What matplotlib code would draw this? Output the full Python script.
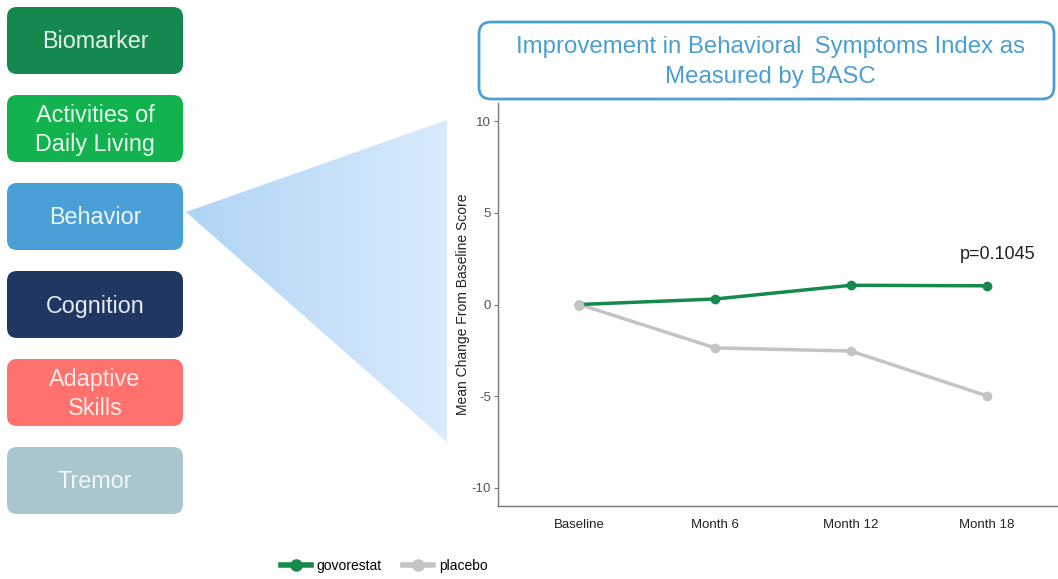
import numpy as np
import matplotlib.pyplot as plt
from matplotlib.patches import FancyBboxPatch, Polygon
from matplotlib.lines import Line2D
from matplotlib.colors import LinearSegmentedColormap

plt.rcParams['font.family'] = ['Liberation Sans', 'DejaVu Sans']

W, H = 1058, 579

# chart data
visits = ['Baseline', 'Month 6', 'Month 12', 'Month 18']
govorestat = [0.0, 0.3, 1.05, 1.02]
placebo = [0.0, -2.37, -2.54, -4.98]
yticks = [-10, -5, 0, 5, 10]

# left side domain boxes
domains = ['Biomarker', 'Activities of\nDaily Living', 'Behavior', 'Cognition',
           'Adaptive\nSkills', 'Tremor']
domain_colors = ['#14884f', '#12b24f', '#4a9fd6', '#1f3761', '#fd726d', '#aac6cd']
domain_text = ['#e6f4ea', '#eaf8ee', '#eef6fc', '#e8ecf4', '#fdeceb', '#f2f6f7']
box_tops = [7, 95, 183, 271, 359, 447]

fig = plt.figure(figsize=(W / 100, H / 100), dpi=100)

# overlay in pixel coordinates
ov = fig.add_axes([0, 0, 1, 1])
ov.axis('off')

for name, col, tcol, top in zip(domains, domain_colors, domain_text, box_tops):
    box = FancyBboxPatch((7, top), 176, 67, boxstyle='round,pad=0,rounding_size=10',
                         fc=col, ec='none')
    ov.add_patch(box)
    ov.text(95, top + 35, name, color=tcol, fontsize=16.8, ha='center', va='center',
            linespacing=1.3)

# gradient triangle pointing at "Behavior"
tri = Polygon([[186, 212], [447, 120], [447, 442]], closed=True, fc='none', ec='none')
ov.add_patch(tri)
grad = np.linspace(0, 1, 256).reshape(1, -1)
cmap = LinearSegmentedColormap.from_list('tri', ['#b0d4f6', '#d9ebfc'])
im = ov.imshow(grad, cmap=cmap, extent=[186, 447, 442, 120], aspect='auto', zorder=1)
im.set_clip_path(tri)
ov.set_xlim(0, W)
ov.set_ylim(H, 0)

# title box
tb = FancyBboxPatch((479, 22), 575, 77, boxstyle='round,pad=0,rounding_size=12',
                    fc='white', ec='#4d9fcf', lw=2)
ov.add_patch(tb)
ov.text(770, 62, 'Improvement in Behavioral  Symptoms Index as\nMeasured by BASC',
        color='#4b9fd0', fontsize=17.3, ha='center', va='center', linespacing=1.5)

# chart axes
x0, x1 = 498, 1068
y0, y1 = 103, 506
ax = fig.add_axes([x0 / W, (H - y1) / H, (x1 - x0) / W, (y1 - y0) / H])
ax.patch.set_alpha(0)
xs = np.arange(1, len(visits) + 1)
ax.plot(xs, placebo, color='#c4c4c4', lw=2.5, marker='o', ms=6, zorder=2)
ax.plot(xs, govorestat, color='#168a4e', lw=2.5, marker='o', ms=6, zorder=3)
ax.plot(xs[:1], placebo[:1], color='#c4c4c4', marker='o', ms=6, lw=0, zorder=4)
ax.set_xlim(0.4, 4.6)
ax.set_ylim(-11, 11)
ax.set_xticks(xs)
ax.set_xticklabels(visits, fontsize=9.5, color='#222222')
ax.set_yticks(yticks)
ax.set_yticklabels([str(v) for v in yticks], fontsize=9.5, color='#555555')
ax.tick_params(axis='x', length=0, pad=9)
ax.tick_params(axis='y', length=3, color='#777777', pad=2)
for s in ['top', 'right']:
    ax.spines[s].set_visible(False)
for s in ['left', 'bottom']:
    ax.spines[s].set_color('#777777')
    ax.spines[s].set_linewidth(1)
ax.set_ylabel('Mean Change From Baseline Score', fontsize=10, color='#222222', labelpad=1)
ax.text(4.08, 2.75, 'p=0.1045', fontsize=13, color='#222222', ha='center', va='center')

# legend
handles = [Line2D([], [], color='#168a4e', lw=4, marker='o', ms=8),
           Line2D([], [], color='#c4c4c4', lw=4, marker='o', ms=8)]
fig.legend(handles, ['govorestat', 'placebo'], loc='center', ncol=2, frameon=False,
           bbox_to_anchor=(384 / W, (H - 566) / H), fontsize=10, handlelength=2.2,
           columnspacing=1.5, handletextpad=0.4)

fig.savefig('out.png', dpi=100)
